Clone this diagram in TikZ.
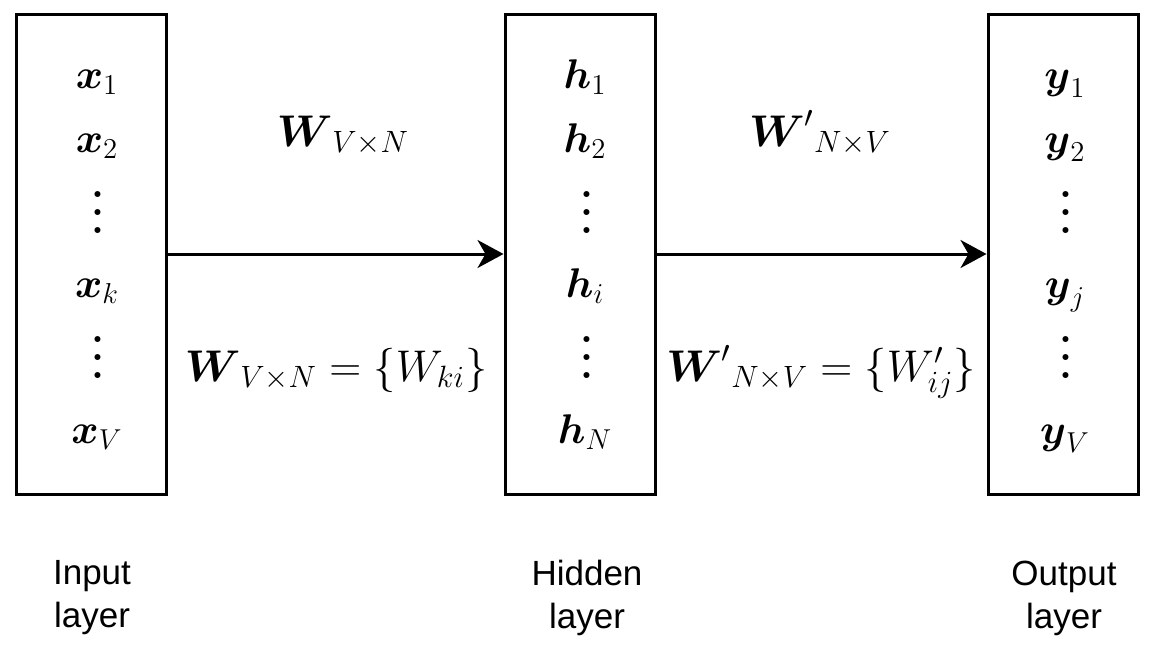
\documentclass[tikz,border=0pt]{standalone}
\usepackage{amsmath,amssymb}
\usepackage{fontspec}
\usepackage{tikz}
\usetikzlibrary{arrows.meta}
\newfontfamily\capfont{Liberation Sans}
\newcommand{\tallvdots}{\vbox{\baselineskip9pt\lineskiplimit0pt\kern6pt\hbox{\bfseries .}\hbox{\bfseries .}\hbox{\bfseries .}}}
\newcommand{\wtext}[1]{\scalebox{1.07}{$#1$}}
\tikzset{
  layer/.style={draw, line width=1.5pt, minimum width=75pt, minimum height=240pt, inner sep=0pt},
  link/.style={line width=1.5pt, -{Stealth[length=13pt,width=14pt,inset=4pt]}},
  unit/.style={font=\fontsize{20.74}{24}\selectfont, inner sep=0pt, anchor=base},
  wt/.style={font=\fontsize{20.74}{25}\selectfont, inner sep=0pt, anchor=base},
  layername/.style={font=\capfont\fontsize{17.5}{20}\selectfont, align=center, inner sep=0pt},
}
\begin{document}
\begin{tikzpicture}[x=0.5pt, y=-0.5pt]
  \useasboundingbox (0,0) rectangle (1155,653);

  % the three layers
  \node[layer] (in)  at (91,254)   {};
  \node[layer] (hid) at (580,254)  {};
  \node[layer] (out) at (1063,254) {};

  % units in each layer
  \node[unit] (x1) at (97,88)  {$\boldsymbol{x}_1$};
  \node[unit] (x2) at (97,152) {$\boldsymbol{x}_2$};
  \node[unit] (x3) at (98,233) {\tallvdots};
  \node[unit] (xk) at (97,297) {$\boldsymbol{x}_k$};
  \node[unit] (x5) at (98,378) {\tallvdots};
  \node[unit] (xV) at (97,443) {$\boldsymbol{x}_V$};

  \node[unit] (h1) at (585,88)  {$\boldsymbol{h}_1$};
  \node[unit] (h2) at (585,152) {$\boldsymbol{h}_2$};
  \node[unit] (h3) at (587,233) {\tallvdots};
  \node[unit] (hi) at (585,297) {$\boldsymbol{h}_i$};
  \node[unit] (h5) at (587,378) {\tallvdots};
  \node[unit] (hN) at (585,443) {$\boldsymbol{h}_N$};

  \node[unit] (y1) at (1065,88)  {$\boldsymbol{y}_1$};
  \node[unit] (y2) at (1065,152) {$\boldsymbol{y}_2$};
  \node[unit] (y3) at (1066,233) {\tallvdots};
  \node[unit] (yj) at (1065,297) {$\boldsymbol{y}_j$};
  \node[unit] (y5) at (1066,378) {\tallvdots};
  \node[unit] (yV) at (1065,443) {$\boldsymbol{y}_V$};

  % connections
  \draw[link] (in) -- (hid);
  \draw[link] (hid) -- (out);

  % weights
  \node[wt] (w1)  at (343,146) {\wtext{\boldsymbol{W}_{V\times N}}};
  \node[wt] (w1e) at (336,381) {\wtext{\boldsymbol{W}_{V\times N}=\{W_{ki}\}}};
  \node[wt] (w2)  at (820,146) {\wtext{{\boldsymbol{W}'}_{N\times V}}};
  \node[wt] (w2e) at (821,381) {\wtext{{\boldsymbol{W}'}_{N\times V}=\{W'_{ij}\}}};

  % layer names
  \node[layername] (cin)  at (92,598)   {Input\\[1.5pt]layer};
  \node[layername] (chid) at (587,598)  {Hidden\\[1.5pt]layer};
  \node[layername] (cout) at (1064,598) {Output\\[1.5pt]layer};
\end{tikzpicture}
\end{document}
